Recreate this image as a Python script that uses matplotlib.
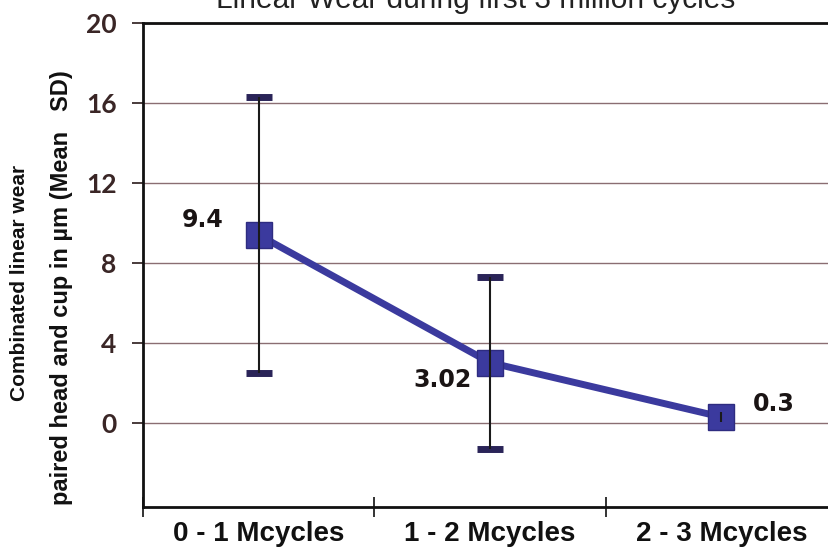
import matplotlib
matplotlib.use("Agg")
import matplotlib.pyplot as plt
import numpy as np

categories = ["0 - 1 Mcycles", "1 - 2 Mcycles", "2 - 3 Mcycles"]
means = [9.4, 3.02, 0.3]
sds = [6.9, 4.3, 0.25]
labels = ["9.4", "3.02", "0.3"]
yticks = [0, 4, 8, 12, 16, 20]

title = "Linear Wear during first 3 million cycles"
ylabel_1 = "Combinated linear wear"
ylabel_2 = "paired head and cup in \u00b5m (Mean   SD)"

fig = plt.figure(figsize=(8.29, 5.56), dpi=100)
ax = fig.add_axes([143/829, 1-507/556, (837-143)/829, (507-23)/556])

x = np.arange(len(categories))
line_color = "#3b3a9e"
ax.plot(x, means, color=line_color, lw=5, zorder=3)
# caps drawn in navy, under the markers
for xi, m, s in zip(x, means, sds):
    ax.plot([xi, xi], [m - s, m + s], ls="none", marker="_", ms=19, mew=5,
            color="#2a2458", zorder=2)
ax.plot(x, means, ls="none", marker="s", ms=19, color=line_color,
        markeredgecolor="#2e2c80", zorder=4)
ax.errorbar(x, means, yerr=sds, fmt="none", ecolor="#1a1a1a", elinewidth=1.5,
            capsize=0, zorder=5)

offsets = [(-56, 15), (-47, -17), (52, 13)]
for xi, m, lab, off in zip(x, means, labels, offsets):
    ax.annotate(lab, (xi, m), xytext=off, textcoords="offset pixels",
                ha="center", va="center", fontsize=17, fontweight="bold",
                family="DejaVu Sans", color="#1a1414")

ax.set_xlim(-0.5, 2.5)
ax.set_ylim(-4.2, 20)
ax.set_yticks(yticks)
ax.set_yticklabels([str(v) for v in yticks], fontsize=19, fontweight="bold",
                   family="Lato", color="#3a2626")
ax.set_xticks(x)
ax.set_xticklabels(categories, fontsize=20, fontweight="bold",
                   family="Liberation Sans", color="#111111")
ax.tick_params(axis="x", which="major", length=0, pad=10)
ax.set_xticks([-0.5, 0.5, 1.5], minor=True)
ax.tick_params(axis="x", which="minor", length=15, width=1.2, direction="inout",
               color="#111111")
ax.tick_params(axis="y", length=8, width=1.2, direction="out", pad=11,
               color="#2a1a1a")

ax.grid(axis="y", color="#8a6e72", lw=1.0)
ax.set_axisbelow(True)
for sp in ["left", "bottom", "top"]:
    ax.spines[sp].set_linewidth(2)
    ax.spines[sp].set_color("#111111")
ax.spines["right"].set_visible(False)

fig.text(476/829, 1 - 8/556, title, ha="center", va="baseline", fontsize=21.5,
         family="Liberation Sans", color="#222222")

fig.text(20/829, 1 - 283/556, ylabel_1, rotation=90, ha="center", va="center",
         fontsize=15, fontweight="bold", family="Liberation Sans",
         color="#111111")
fig.text(62/829, 1 - 288/556, ylabel_2, rotation=90, ha="center", va="center",
         fontsize=17, fontweight="bold", family="Liberation Sans",
         color="#111111")

fig.savefig("out.png", dpi=100)
